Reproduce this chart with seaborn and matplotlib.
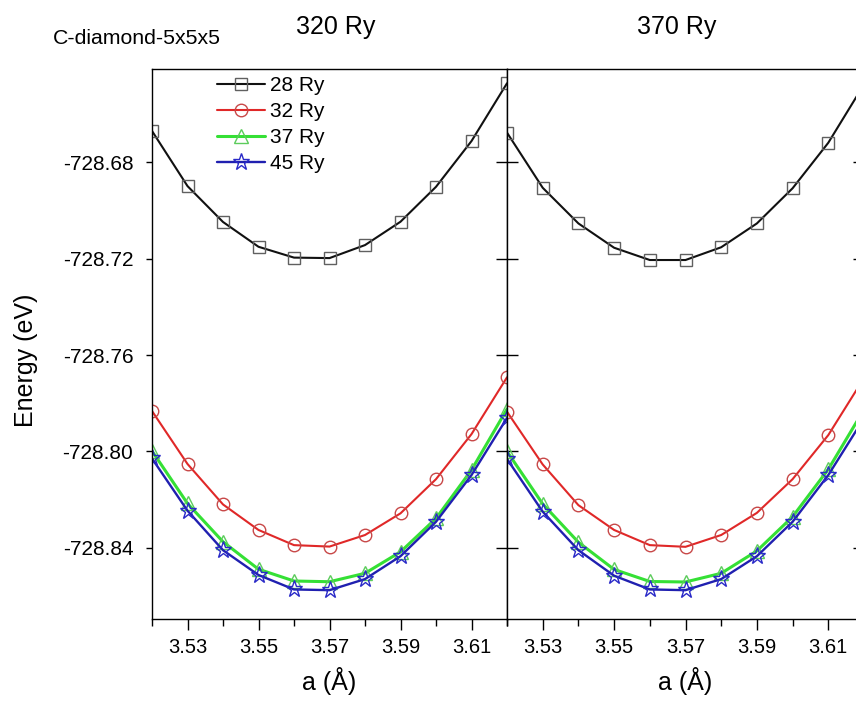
import matplotlib
matplotlib.use("Agg")
import matplotlib.pyplot as plt
import seaborn as sns
from matplotlib.ticker import FormatStrFormatter

# Lattice constants (Å)
lattice = [3.52, 3.53, 3.54, 3.55, 3.56, 3.57, 3.58, 3.59, 3.60, 3.61, 3.62]

series_labels = ["28 Ry", "32 Ry", "37 Ry", "45 Ry"]
panel_titles = ["320 Ry", "370 Ry"]

# Total energies (eV), density cutoff 320 Ry
e320_28 = [-728.6669, -728.6898, -728.7047, -728.7150, -728.7195, -728.7197,
           -728.7143, -728.7046, -728.6901, -728.6711, -728.6471]
e320_32 = [-728.7832, -728.8052, -728.8220, -728.8326, -728.8389, -728.8395,
           -728.8347, -728.8257, -728.8115, -728.7928, -728.7692]
e320_37 = [-728.7998, -728.8216, -728.8375, -728.8489, -728.8538, -728.8541,
           -728.8506, -728.8417, -728.8278, -728.8077, -728.7824]
e320_45 = [-728.8029, -728.8246, -728.8410, -728.8513, -728.8573, -728.8576,
           -728.8530, -728.8435, -728.8292, -728.8098, -728.7861]

# Total energies (eV), density cutoff 370 Ry
e370_28 = [-728.6676, -728.6905, -728.7053, -728.7154, -728.7205, -728.7205,
           -728.7152, -728.7053, -728.6907, -728.6718, -728.6476]
e370_32 = [-728.7835, -728.8054, -728.8223, -728.8326, -728.8389, -728.8396,
           -728.8347, -728.8255, -728.8115, -728.7932, -728.7695]
e370_37 = [-728.8000, -728.8218, -728.8377, -728.8490, -728.8540, -728.8542,
           -728.8506, -728.8413, -728.8271, -728.8074, -728.7826]
e370_45 = [-728.8031, -728.8250, -728.8410, -728.8516, -728.8573, -728.8576,
           -728.8530, -728.8435, -728.8292, -728.8098, -728.7862]

y_ticks = [-728.84, -728.80, -728.76, -728.72, -728.68]
x_major = [3.53, 3.55, 3.57, 3.59, 3.61]
x_minor = [3.52, 3.54, 3.56, 3.58, 3.60, 3.62]

sns.set_theme(style="ticks")
plt.rcParams["font.family"] = ["Liberation Sans", "DejaVu Sans"]
plt.rcParams.update({
    "text.color": "black",
    "axes.labelcolor": "black",
    "xtick.color": "black",
    "ytick.color": "black",
    "axes.edgecolor": "black",
})

styles = [
    dict(color="#111111", marker="s", ms=8.5, mec="#606060", lw=1.5),
    dict(color="#e02828", marker="o", ms=9.0, mec="#c84848", lw=1.5),
    dict(color="#35e035", marker="^", ms=10.0, mec="#5ccc5c", lw=2.2),
    dict(color="#2020b0", marker="*", ms=12.5, mec="#2a2ac8", lw=1.7),
]

fig = plt.figure(figsize=(8.56, 7.02), dpi=100)
W, H = 856.0, 702.0
top, bottom = 69.3, 619.3
ax1 = fig.add_axes([152 / W, 1 - bottom / H, 355 / W, (bottom - top) / H])
ax2 = fig.add_axes([507 / W, 1 - bottom / H, 357 / W, (bottom - top) / H], sharey=ax1)

panels = [
    (ax1, [e320_28, e320_32, e320_37, e320_45]),
    (ax2, [e370_28, e370_32, e370_37, e370_45]),
]

for ax, data in panels:
    for vals, lab, st in zip(data, series_labels, styles):
        sns.lineplot(x=lattice, y=vals, ax=ax, color=st["color"], marker=st["marker"],
                     markersize=st["ms"], markerfacecolor="none",
                     markeredgecolor=st["mec"], markeredgewidth=1.0,
                     linewidth=st["lw"], errorbar=None, sort=False,
                     label=lab if ax is ax1 else None, legend=(ax is ax1))
    ax.set_xlim(3.52, 3.62)
    ax.set_ylim(-728.8697, -728.6413)
    ax.set_xticks(x_major)
    ax.set_xticks(x_minor, minor=True)
    ax.xaxis.set_major_formatter(FormatStrFormatter("%.2f"))
    ax.tick_params(axis="x", which="major", direction="out", length=8, width=1.0,
                   pad=5.5, labelsize=14.5, colors="black")
    ax.tick_params(axis="x", which="minor", direction="out", length=4.8, width=1.0)
    ax.set_xlabel("a (Å)", fontsize=18, color="black")
    ax.xaxis.set_label_coords(0.5, -0.086)
    for sp in ax.spines.values():
        sp.set_linewidth(1.0)
        sp.set_color("black")
    ax.grid(False)

ax1.set_yticks(y_ticks)
ax1.yaxis.set_major_formatter(FormatStrFormatter("%.2f"))
ax1.tick_params(axis="y", which="major", direction="out", length=4.5, width=1.0,
                pad=9, labelsize=15, left=True, right=False, colors="black")
ax1.set_ylabel("Energy (eV)", fontsize=18, color="black")
ax1.yaxis.set_label_coords(-0.32, 0.47)

ax2.tick_params(axis="y", which="major", direction="inout", length=16, width=1.0,
                left=True, right=True, labelleft=False, labelright=False)
ax2.set_ylabel("")

leg = ax1.legend(loc="upper left", bbox_to_anchor=((216.7 - 152) / 355, 0.987),
                 frameon=False, fontsize=15, handlelength=2.3, handletextpad=0.25,
                 labelspacing=0.33, borderpad=0, borderaxespad=0)
for t in leg.get_texts():
    t.set_color("black")

fig.text(53 / W, 1 - 39 / H, "C-diamond-5x5x5", fontsize=15.3, ha="left", va="center")
fig.text(335.5 / W, 1 - 27 / H, panel_titles[0], fontsize=18, ha="center", va="center")
fig.text(677 / W, 1 - 27 / H, panel_titles[1], fontsize=18, ha="center", va="center")

fig.savefig("out.png", dpi=100)
